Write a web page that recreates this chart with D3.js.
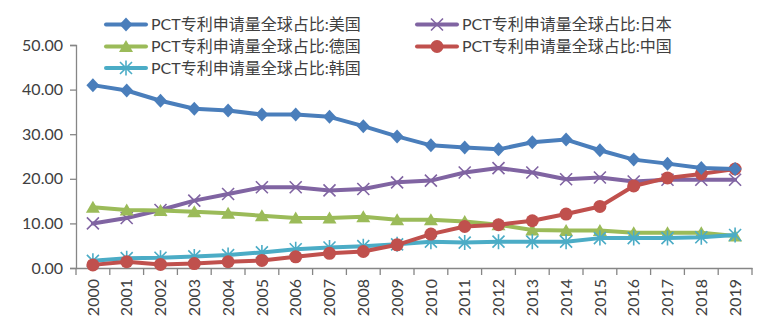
<!DOCTYPE html>
<html><head><meta charset="utf-8">
<script src="https://cdn.jsdelivr.net/npm/d3@7"></script>
<style>body{margin:0;background:#fff}svg{display:block}</style>
</head><body><svg id="c" width="771" height="336"></svg>
<script>
const years = ["2000","2001","2002","2003","2004","2005","2006","2007","2008","2009","2010","2011","2012","2013","2014","2015","2016","2017","2018","2019"];
const yTicks = [0,10,20,30,40,50];
const usa    = [41.0,39.8,37.5,35.7,35.3,34.4,34.4,33.9,31.8,29.5,27.5,27.0,26.6,28.2,28.8,26.4,24.3,23.4,22.4,22.2];
const japan  = [10.0,11.2,13.0,15.1,16.6,18.1,18.1,17.4,17.7,19.2,19.6,21.4,22.4,21.4,19.9,20.3,19.4,19.8,19.8,19.8];
const germany= [13.6,13.0,12.9,12.6,12.3,11.7,11.2,11.2,11.5,10.8,10.8,10.4,9.7,8.5,8.4,8.4,7.9,7.9,7.9,7.2];
const china  = [0.7,1.4,0.8,1.0,1.4,1.7,2.5,3.3,3.7,5.2,7.6,9.3,9.7,10.6,12.1,13.8,18.4,20.2,21.1,22.2];
const korea  = [1.6,2.2,2.3,2.6,2.9,3.5,4.2,4.6,4.9,5.3,5.9,5.7,5.9,5.9,5.9,6.7,6.7,6.7,6.9,7.4];
const names = ["PCT专利申请量全球占比:美国","PCT专利申请量全球占比:日本","PCT专利申请量全球占比:德国","PCT专利申请量全球占比:中国","PCT专利申请量全球占比:韩国"];

const series = [
  {name:names[0], values:usa, color:"#4A7EBB", marker:"diamond", col:0,row:0},
  {name:names[2], values:germany, color:"#9BBB59", marker:"triangle", col:0,row:1},
  {name:names[4], values:korea, color:"#4BACC6", marker:"asterisk", col:0,row:2},
  {name:names[1], values:japan, color:"#8064A2", marker:"x", col:1,row:0},
  {name:names[3], values:china, color:"#C0504D", marker:"circle", col:1,row:1}
];

const svg = d3.select("#c");
const x = d3.scaleBand().domain(years).range([76,752]).padding(0);
const y = d3.scaleLinear().domain([0,50]).range([268,45]);
const axisColor = "#868686", textColor = "#404040";

// Y axis
const ya = svg.append("g").attr("transform","translate(76,0)")
  .call(d3.axisLeft(y).tickValues(yTicks).tickSize(6).tickPadding(7).tickFormat(d3.format(".2f")));
ya.select(".domain").attr("stroke",axisColor).attr("stroke-width",1.3);
ya.selectAll(".tick line").attr("stroke",axisColor).attr("stroke-width",1.3);
ya.selectAll(".tick text").attr("fill",textColor).style("font-family","Lato, sans-serif").style("font-size","16px");

// X axis
const xa = svg.append("g").attr("transform","translate(0,268)")
  .call(d3.axisBottom(x).tickSize(0).tickFormat(""));
xa.select(".domain").attr("stroke",axisColor).attr("stroke-width",1.3);
const bounds = years.map(d=>x(d)).concat([x.range()[1]]);
svg.append("g").selectAll("line").data(bounds).join("line")
  .attr("x1",d=>d).attr("x2",d=>d).attr("y1",268).attr("y2",275)
  .attr("stroke",axisColor).attr("stroke-width",1.3);
svg.append("g").selectAll("text").data(years).join("text")
  .attr("transform",d=>`translate(${x(d)+x.bandwidth()/2},279) rotate(-90)`)
  .attr("text-anchor","end").attr("dy","0.36em")
  .attr("fill",textColor).style("font-family","Lato, sans-serif").style("font-size","16px")
  .text(d=>d);

function drawMarker(g, type, color, cx, cy){
  const s = 6.5;
  if(type==="diamond"){
    g.append("path").attr("d",`M${cx},${cy-s-0.5}L${cx+s},${cy}L${cx},${cy+s+0.5}L${cx-s},${cy}Z`).attr("fill",color);
  } else if(type==="triangle"){
    g.append("path").attr("d",`M${cx},${cy-s}L${cx+s+0.5},${cy+s-1}L${cx-s-0.5},${cy+s-1}Z`).attr("fill",color);
  } else if(type==="circle"){
    g.append("circle").attr("cx",cx).attr("cy",cy).attr("r",6.5).attr("fill",color);
  } else if(type==="x"){
    const k=6;
    g.append("path").attr("d",`M${cx-k},${cy-k}L${cx+k},${cy+k}M${cx-k},${cy+k}L${cx+k},${cy-k}`)
      .attr("stroke",color).attr("stroke-width",1.6).attr("fill","none");
  } else if(type==="asterisk"){
    const k=6;
    g.append("path").attr("d",`M${cx-k},${cy-k}L${cx+k},${cy+k}M${cx-k},${cy+k}L${cx+k},${cy-k}M${cx},${cy-k-1.5}L${cx},${cy+k+1.5}`)
      .attr("stroke",color).attr("stroke-width",1.6).attr("fill","none");
  }
}

const line = d3.line().x((d,i)=>x(years[i])+x.bandwidth()/2).y(d=>y(d));
const order = [series[3], series[1], series[2], series[4], series[0]];
order.forEach(s=>{
  const g = svg.append("g");
  g.append("path").datum(s.values).attr("d",line).attr("fill","none")
    .attr("stroke",s.color).attr("stroke-width",4).attr("stroke-linejoin","round").attr("stroke-linecap","round");
  s.values.forEach((v,i)=>drawMarker(g,s.marker,s.color,x(years[i])+x.bandwidth()/2,y(v)));
});

// Legend
const lg = svg.append("g");
const colX = [106, 417], rowY = [24.5, 46.5, 68];
series.forEach(s=>{
  const lx = colX[s.col], ly = rowY[s.row];
  const g = lg.append("g");
  g.append("line").attr("x1",lx).attr("x2",lx+40).attr("y1",ly).attr("y2",ly)
    .attr("stroke",s.color).attr("stroke-width",4).attr("stroke-linecap","round");
  drawMarker(g,s.marker,s.color,lx+20,ly);
  g.append("text").attr("x",lx+45).attr("y",ly).attr("dy","0.35em")
    .attr("fill",textColor).style("font-family","Lato, 'Noto Sans CJK SC', sans-serif").style("font-size","16px")
    .text(s.name);
});
</script></body></html>
